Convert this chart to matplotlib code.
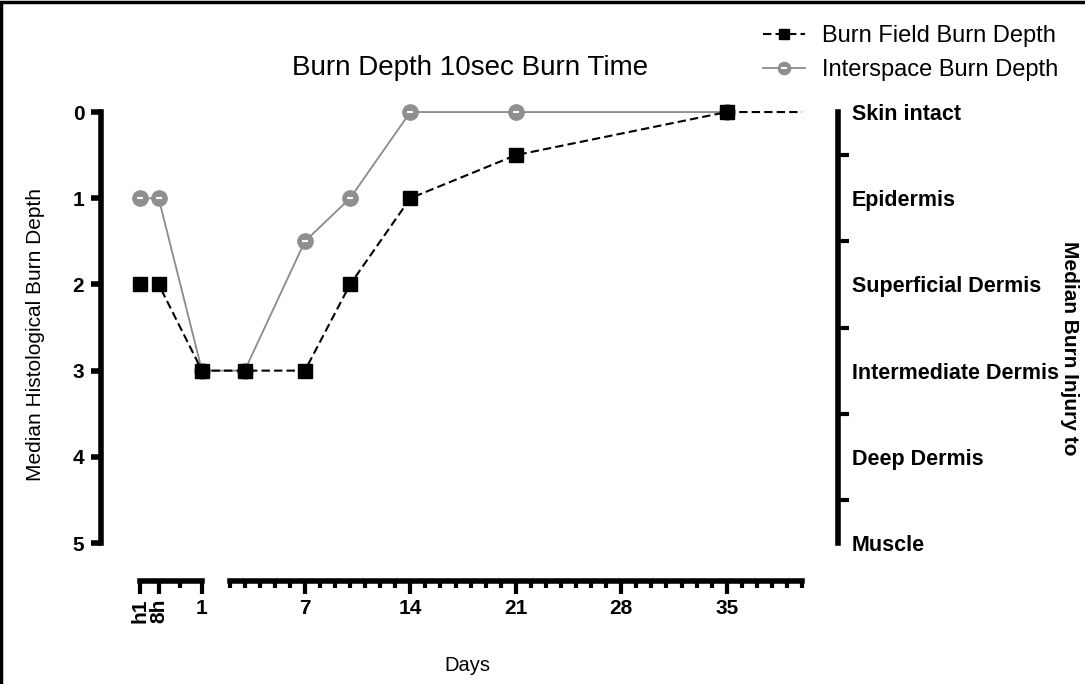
import numpy as np
import matplotlib
matplotlib.use("Agg")
import matplotlib.pyplot as plt
from matplotlib.patches import Rectangle
from matplotlib.ticker import FixedLocator, NullFormatter

plt.rcParams["font.family"] = ["Liberation Sans", "DejaVu Sans"]

# -- data (days; h1 = 1 hour, 8h = 8 hours) --
days_field = [1 / 24, 8 / 24, 1, 3, 7, 10, 14, 21, 35, 42]
depth_field = [2, 2, 3, 3, 3, 2, 1, 0.5, 0, 0]
days_inter = [1 / 24, 8 / 24, 1, 3, 7, 10, 14, 21, 35]
depth_inter = [1, 1, 3, 3, 1.5, 1, 0, 0, 0]

early_ticks = [1 / 24, 8 / 24, 1]
early_labels = ["h1", "8h", "1"]
day_ticks = [7, 14, 21, 28, 35]
injury_levels = ["Skin intact", "Epidermis", "Superficial Dermis",
                 "Intermediate Dermis", "Deep Dermis", "Muscle"]

# broken day axis: first day stretched, gap between day 1 and day 2
bp_d = [-1, 0, 1, 2, 50]
bp_p = [72, 137, 202, 229.6, 953]


def fwd(d):
    return np.interp(d, bp_d, bp_p)


def inv(p):
    return np.interp(p, bp_p, bp_d)


fig = plt.figure(figsize=(10.85, 6.84), dpi=100)
ax = fig.add_axes([0.0931, 0.2061, 0.6461, 0.6427])
ax.set_xscale("function", functions=(fwd, inv))
ax.set_xlim(-0.554, 40)
ax.set_ylim(5, -0.1)

# series
h_int, = ax.plot(days_inter, depth_inter, color="#8a8a8a", lw=1.3,
                 marker="o", ms=11, mfc="#8f8f8f", mec="#8f8f8f")
h_hl, = ax.plot(days_inter, depth_inter, ls="none", marker="_", ms=5,
                mew=1.5, mec="white")
h_fld, = ax.plot(days_field, depth_field, color="black", lw=1.5,
                 ls=(0, (4, 2)), marker="s", ms=9.5, mfc="black",
                 mec="black")

spine_w = 4.0
# left axis
for s in ["top", "right"]:
    ax.spines[s].set_visible(False)
ax.spines["left"].set_linewidth(spine_w)
ax.spines["left"].set_bounds(0, 5)
ax.set_yticks(range(6))
ax.tick_params(axis="y", direction="out", length=7, width=spine_w, pad=5,
               labelsize=15)
for lb in ax.get_yticklabels():
    lb.set_fontweight("bold")
ax.set_ylabel("Median Histological Burn Depth", fontsize=15, va="center")
ax.yaxis.set_label_coords(-0.094, 0.475)

# bottom axis, main part (day 2 to 40)
ax.spines["bottom"].set_position(("outward", 27))
ax.spines["bottom"].set_linewidth(spine_w)
ax.spines["bottom"].set_bounds(2, 40)
ax.xaxis.set_major_locator(FixedLocator(day_ticks))
ax.xaxis.set_minor_locator(FixedLocator(range(2, 41)))
ax.xaxis.set_minor_formatter(NullFormatter())
ax.set_xticklabels([str(d) for d in day_ticks])
ax.tick_params(axis="x", which="major", direction="out", length=9,
               width=3, labelsize=15, pad=4)
ax.tick_params(axis="x", which="minor", direction="out", length=5, width=3)
for lb in ax.get_xticklabels():
    lb.set_fontweight("bold")
ax.set_xlabel("Days", fontsize=14.5)
ax.xaxis.set_label_coords(0.522, -0.2775)
ax.xaxis.label.set_va("center")

# bottom axis, early part (h1 to day 1)
ax_e = ax.twiny()
ax_e.set_xscale("function", functions=(fwd, inv))
ax_e.set_xlim(ax.get_xlim())
for s in ["top", "right", "left"]:
    ax_e.spines[s].set_visible(False)
ax_e.xaxis.set_ticks_position("bottom")
ax_e.xaxis.set_label_position("bottom")
ax_e.spines["bottom"].set_visible(True)
ax_e.spines["bottom"].set_position(("outward", 27))
ax_e.spines["bottom"].set_linewidth(spine_w)
ax_e.spines["bottom"].set_bounds(1 / 24, 1)
ax_e.xaxis.set_major_locator(FixedLocator(early_ticks))
ax_e.xaxis.set_minor_locator(FixedLocator([16 / 24]))
ax_e.xaxis.set_minor_formatter(NullFormatter())
ax_e.set_xticklabels(early_labels)
ax_e.tick_params(axis="x", which="major", direction="out", length=9,
                 width=3, labelsize=15, pad=4)
ax_e.tick_params(axis="x", which="minor", direction="out", length=5, width=3)
for lb in ax_e.get_xticklabels():
    lb.set_fontweight("bold")
    if lb.get_text() != "1":
        lb.set_rotation(90)
        lb.set_va("top")

# right axis: injury levels
ax_r = ax.twinx()
ax_r.set_ylim(ax.get_ylim())
for s in ["top", "left", "bottom"]:
    ax_r.spines[s].set_visible(False)
ax_r.spines["right"].set_position(("outward", 26))
ax_r.spines["right"].set_linewidth(spine_w)
ax_r.spines["right"].set_bounds(0, 5)
ax_r.yaxis.set_major_locator(FixedLocator([0.5, 1.5, 2.5, 3.5, 4.5]))
ax_r.yaxis.set_major_formatter(NullFormatter())
ax_r.yaxis.set_minor_locator(FixedLocator(range(6)))
ax_r.set_yticklabels(injury_levels, minor=True)
ax_r.tick_params(axis="y", which="major", direction="out", length=8,
                 width=3)
ax_r.tick_params(axis="y", which="minor", length=0, pad=10, labelsize=15.5)
for lb in ax_r.get_yticklabels(minor=True):
    lb.set_fontweight("bold")
ax_r.set_ylabel("Median Burn Injury to", rotation=270, fontsize=15,
                fontweight="bold", va="center")
ax_r.yaxis.set_label_coords(1.382, 0.444)

fig.text(0.433, 0.9, "Burn Depth 10sec Burn Time", fontsize=20,
         ha="center", va="center")

fig.legend([h_fld, (h_int, h_hl)],
           ["Burn Field Burn Depth", "Interspace Burn Depth"],
           loc="upper right", bbox_to_anchor=(0.975, 0.963), frameon=False,
           fontsize=17, handlelength=1.8, handletextpad=0.7,
           labelspacing=0.5, markerscale=0.8, borderaxespad=0, borderpad=0)

fig.patches.append(Rectangle((0.001, -0.05), 1.2, 1.047, fill=False,
                             lw=2.5, ec="black",
                             transform=fig.transFigure, figure=fig))

fig.savefig("out.png", dpi=100)
